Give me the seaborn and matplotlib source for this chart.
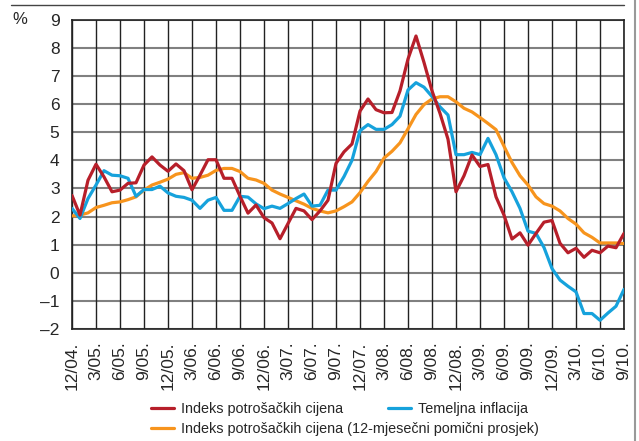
import pandas as pd
import matplotlib
matplotlib.use("Agg")
import matplotlib.pyplot as plt
from matplotlib.lines import Line2D
import seaborn as sns

# monthly data, 12/2004 - 9/2010
cpi = [2.75, 2.05, 3.29, 3.86, 3.41, 2.88, 2.94, 3.18, 3.2, 3.83,
       4.12, 3.83, 3.61, 3.87, 3.63, 2.95, 3.47, 4.02, 4.02, 3.36,
       3.36, 2.72, 2.12, 2.41, 1.96, 1.77, 1.21, 1.75, 2.29, 2.2,
       1.89, 2.2, 2.58, 3.89, 4.3, 4.58, 5.75, 6.18, 5.8, 5.69,
       5.7, 6.47, 7.6, 8.42, 7.48, 6.47, 5.67, 4.75, 2.88, 3.45,
       4.19, 3.78, 3.85, 2.7, 2.05, 1.2, 1.42, 0.98, 1.4, 1.8,
       1.86, 1.05, 0.71, 0.87, 0.55, 0.8, 0.71, 0.95, 0.89, 1.4]
core = [2.29, 1.93, 2.64, 3.12, 3.63, 3.47, 3.45, 3.36, 2.72, 2.96,
        2.96, 3.08, 2.84, 2.72, 2.68, 2.58, 2.29, 2.58, 2.68, 2.22,
        2.22, 2.72, 2.69, 2.45, 2.28, 2.37, 2.29, 2.46, 2.64, 2.8,
        2.37, 2.4, 2.94, 2.94, 3.42, 4.0, 5.05, 5.27, 5.1, 5.1,
        5.27, 5.57, 6.5, 6.76, 6.6, 6.27, 5.9, 5.61, 4.2, 4.2,
        4.28, 4.2, 4.78, 4.2, 3.38, 2.88, 2.29, 1.48, 1.4, 0.9,
        0.15, -0.26, -0.48, -0.68, -1.45, -1.45, -1.69, -1.43, -1.19, -0.59]
cpi_avg = [2.02, 2.05, 2.13, 2.32, 2.4, 2.49, 2.52, 2.6, 2.7, 2.94,
           3.12, 3.22, 3.33, 3.5, 3.56, 3.36, 3.39, 3.47, 3.64, 3.71,
           3.71, 3.6, 3.36, 3.3, 3.18, 2.94, 2.8, 2.68, 2.56, 2.44,
           2.29, 2.2, 2.13, 2.2, 2.35, 2.52, 2.85, 3.25, 3.6, 4.08,
           4.32, 4.62, 5.12, 5.63, 5.98, 6.18, 6.26, 6.26, 6.08, 5.85,
           5.72, 5.52, 5.31, 5.09, 4.5, 3.92, 3.45, 3.12, 2.7, 2.46,
           2.37, 2.2, 1.93, 1.73, 1.42, 1.26, 1.06, 1.06, 1.06, 1.04]

tick_labels = ["12/04.", "3/05.", "6/05.", "9/05.", "12/05.", "3/06.", "6/06.", "9/06.",
               "12/06.", "3/07.", "6/07.", "9/07.", "12/07.", "3/08.", "6/08.", "9/08.",
               "12/08.", "3/09.", "6/09.", "9/09.", "12/09.", "3/10.", "6/10.", "9/10."]
y_ticks = [9, 8, 7, 6, 5, 4, 3, 2, 1, 0, -1, -2]

names = ["Indeks potrošačkih cijena",
         "Temeljna inflacija",
         "Indeks potrošačkih cijena (12-mjesečni pomični prosjek)"]
colors = {names[0]: "#b71f2a", names[1]: "#16a2dc", names[2]: "#f7941d"}

months = list(range(len(cpi)))
df = pd.concat([
    pd.DataFrame({"month": months, "value": cpi, "series": names[0]}),
    pd.DataFrame({"month": months, "value": core, "series": names[1]}),
    pd.DataFrame({"month": months, "value": cpi_avg, "series": names[2]}),
])

sns.set_style("white")
plt.rcParams['font.family'] = ['Liberation Sans', 'DejaVu Sans']

fig = plt.figure(figsize=(6.39, 4.41), dpi=100)
ax = fig.add_axes([72 / 639, 1 - 329 / 441, 552 / 639, (329 - 19.7) / 441])

# grid first, lines on top
for v in y_ticks:
    ax.axhline(v, color="#808080", lw=1.5, zorder=1)
for t in range(0, len(cpi), 3):
    ax.axvline(t, color="#222222", lw=1.0, zorder=1)

sns.lineplot(data=df, x="month", y="value", hue="series", hue_order=[names[2], names[1], names[0]],
             palette=colors, linewidth=2.3, ax=ax, legend=False, zorder=3)

ax.set_xlim(0, len(cpi) - 1)
ax.set_ylim(-2, 9)
ax.set_xticks(range(0, len(cpi), 3))
ax.set_xticklabels(tick_labels, rotation=90, fontsize=12.5)
ax.set_yticks(y_ticks)
ax.set_yticklabels([str(v).replace("-", "\u2013") for v in y_ticks], fontsize=12.5)
ax.tick_params(length=0, pad=9)
ax.set_xlabel("")
ax.set_ylabel("")
for s in ax.spines.values():
    s.set_color("#222222")
    s.set_linewidth(1.2)

fig.text(12 / 639, 1 - 20 / 441, "%", fontsize=12, va="center", ha="left")

# frame decorations
fig.add_artist(Line2D([11 / 639, 624 / 639], [1 - 5 / 441] * 2, color="#444444", lw=1.0))
fig.add_artist(Line2D([635 / 639] * 2, [0, 1], color="#999999", lw=1.5))

def handle(name):
    return Line2D([], [], color=colors[name], lw=2.3)

leg_kw = dict(frameon=False, fontsize=10.4, handlelength=1.6, handletextpad=0.5,
              labelspacing=0.45, borderpad=0, borderaxespad=0)
fig.legend([handle(names[0]), handle(names[2])], [names[0], names[2]],
           loc="upper left", bbox_to_anchor=(151 / 639, 1 - 402 / 441), **leg_kw)
fig.legend([handle(names[1])], [names[1]],
           loc="upper left", bbox_to_anchor=(388 / 639, 1 - 402 / 441), **leg_kw)

fig.savefig("out.png", dpi=100)
